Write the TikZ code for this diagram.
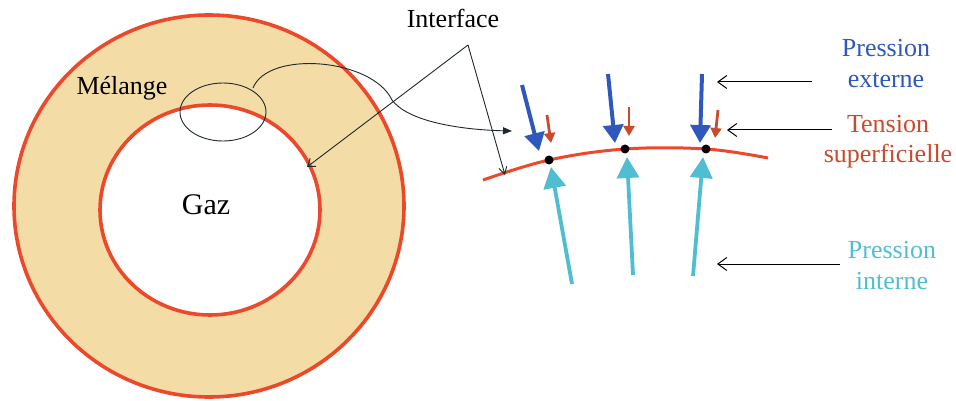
\documentclass[tikz,border=0pt]{standalone}
\usepackage{fontspec}
\setmainfont{Liberation Serif}
\usetikzlibrary{arrows.meta,shapes.geometric}
\definecolor{ringfill}{RGB}{243,220,166}
\definecolor{ringline}{RGB}{236,72,42}
\definecolor{pext}{RGB}{46,88,190}
\definecolor{tens}{RGB}{200,75,45}
\definecolor{pint}{RGB}{80,190,210}
\definecolor{thin}{RGB}{30,40,45}
\begin{document}
\begin{tikzpicture}[x=1pt,y=-1pt,
  lbl/.style={font=\fontsize{26}{30}\selectfont, anchor=base, inner sep=0pt},
  thinarrow/.style={draw=thin, line width=0.9pt},
  leftarrow/.style={draw=black, line width=1pt, -{Straight Barb[length=9pt,width=13pt]}},
  extarrow/.style={draw=pext, line width=4pt, -{Triangle[length=18pt,width=20pt]}},
  tensarrow/.style={draw=tens, line width=2.8pt, -{Triangle[length=10pt,width=11pt]}},
  intarrow/.style={draw=pint, line width=3.8pt, -{Triangle[length=21pt,width=22pt]}},
  dot/.style={circle, fill=black, minimum size=9pt, inner sep=0pt}
]
\useasboundingbox (0,0) rectangle (956,401);
% ring
\fill[ringfill, even odd rule] (209,206) ellipse [x radius=195, y radius=191]
   (210,210) ellipse [x radius=110, y radius=105];
\draw[ringline, line width=3.6pt] (209,206) ellipse [x radius=195, y radius=191];
\draw[ringline, line width=3.6pt] (210,210) ellipse [x radius=110, y radius=105];
% small ellipse
\node[draw=thin, line width=0.9pt, ellipse, minimum width=86pt, minimum height=58pt, inner sep=0pt] (zoomell) at (223,112) {};
% texts
\node[lbl] (melange) at (122,95) {Mélange};
\node[lbl, font=\fontsize{30}{34}\selectfont] (gaz) at (206,214) {Gaz};
\node[lbl] (interface) at (453,28) {Interface};
\node[lbl, text=pext] (pe1) at (886,57) {Pression};
\node[lbl, text=pext] (pe2) at (886,88) {externe};
\node[lbl, text=tens] (ts1) at (888,133) {Tension};
\node[lbl, text=tens] (ts2) at (888,163) {superficielle};
\node[lbl, text=pint] (pi1) at (892,258) {Pression};
\node[lbl, text=pint] (pi2) at (892,289) {interne};
% interface curve
\coordinate (c0) at (483,180);
\coordinate (p1) at (549,160);
\coordinate (p2) at (625,149);
\coordinate (p3) at (706,149);
\coordinate (c4) at (768,158);
\draw[ringline, line width=3pt] plot[smooth, tension=0.6] coordinates {(c0) (p1) (p2) (p3) (c4)};
% interface pointers
\coordinate (apex) at (468,45);
\coordinate (innertip) at (307,167);
\coordinate (curvetip) at (505,175);
\draw[thinarrow, -{Straight Barb[length=7pt,width=10pt]}] (apex) -- (innertip);
\draw[thinarrow, -{Straight Barb[length=7pt,width=8pt]}] (apex) -- (curvetip);
\coordinate (elltop) at (253,88);
\coordinate (bend) at (392,100);
\coordinate (magtip) at (512,131);
\draw[thinarrow, -{Triangle[length=9pt,width=7pt]}] (elltop) .. controls (268,50) and (372,58) .. (bend) .. controls (410,124) and (470,130) .. (magtip);
% external pressure
\coordinate (e1) at (522,85);  \coordinate (e1t) at (539,151);
\coordinate (e2) at (608,74);  \coordinate (e2t) at (615,143);
\coordinate (e3) at (702,74);  \coordinate (e3t) at (700,143);
\draw[extarrow] (e1) -- (e1t);
\draw[extarrow] (e2) -- (e2t);
\draw[extarrow] (e3) -- (e3t);
% tension
\coordinate (t1) at (547,115); \coordinate (t1t) at (551,143);
\coordinate (t2) at (629,107); \coordinate (t2t) at (629,136);
\coordinate (t3) at (718,110); \coordinate (t3t) at (715,138);
\draw[tensarrow] (t1) -- (t1t);
\draw[tensarrow] (t2) -- (t2t);
\draw[tensarrow] (t3) -- (t3t);
% internal pressure
\coordinate (i1) at (572,284); \coordinate (i1t) at (551,167);
\coordinate (i2) at (633,275); \coordinate (i2t) at (627,157);
\coordinate (i3) at (693,276); \coordinate (i3t) at (703,157);
\draw[intarrow] (i1) -- (i1t);
\draw[intarrow] (i2) -- (i2t);
\draw[intarrow] (i3) -- (i3t);
% dots on the interface
\node[dot] (d1) at (p1) {};
\node[dot] (d2) at (p2) {};
\node[dot] (d3) at (p3) {};
% label pointers
\coordinate (la1) at (812,82);  \coordinate (la1t) at (717,82);
\coordinate (la2) at (832,130); \coordinate (la2t) at (727,130);
\coordinate (la3) at (840,264); \coordinate (la3t) at (717,264);
\draw[leftarrow] (la1) -- (la1t);
\draw[leftarrow] (la2) -- (la2t);
\draw[leftarrow] (la3) -- (la3t);
\end{tikzpicture}
\end{document}
